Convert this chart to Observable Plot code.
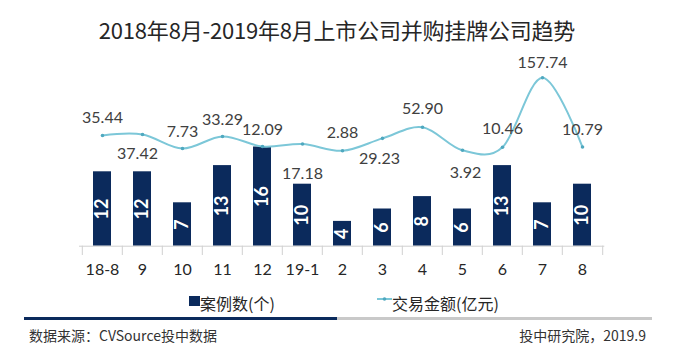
<!DOCTYPE html>
<html>
<head>
<meta charset="utf-8">
<script src="https://cdn.jsdelivr.net/npm/d3@7"></script>
<script src="https://cdn.jsdelivr.net/npm/@observablehq/plot@0.6"></script>
<style>
  html, body { margin: 0; padding: 0; background: #fff; }
  #wrap { position: relative; width: 674px; height: 354px; overflow: hidden; font-family: "Noto Sans CJK SC", Lato, sans-serif; }
  #title { position: absolute; left: 0; width: 674px; top: 14px; text-align: center; font-size: 22px; color: #262626; line-height: 30px; letter-spacing: -0.2px; }
  #chart { position: absolute; left: 0; top: 0; }
  .leg { position: absolute; font-size: 16px; color: #262626; line-height: 20px; }
  #sep1 { position: absolute; left: 24px; width: 313px; top: 317px; height: 3px; background: #0b2a5c; }
  #sep2 { position: absolute; left: 337px; width: 315px; top: 317px; height: 3px; background: #c9c9c9; }
  .foot { position: absolute; font-size: 14px; color: #333; line-height: 18px; top: 326px; }
</style>
</head>
<body>
<div id="wrap">
  <div id="chart"></div>
  <div id="title">2018年8月-2019年8月上市公司并购挂牌公司趋势</div>
  <div class="leg" style="left:189px; top:293px;"><span style="display:inline-block;width:11px;height:10px;background:#0b2a5c;vertical-align:top;margin-top:3px;"></span>案例数(个)</div>
  <div class="leg" style="left:377px; top:293px;"><svg width="15" height="10" style="vertical-align:top;margin-top:1px;"><line x1="0" y1="5" x2="15" y2="5" stroke="#7cc7d8" stroke-width="2"/><circle cx="7.5" cy="5" r="1.8" fill="#4fa8bf"/></svg>交易金额(亿元)</div>
  <div id="sep1"></div><div id="sep2"></div>
  <div class="foot" style="left:29px;">数据来源：CVSource投中数据</div>
  <div class="foot" style="right:28px;">投中研究院，2019.9</div>
</div>
<script>
// ---- data ----
const months = ["18-8", "9", "10", "11", "12", "19-1", "2", "3", "4", "5", "6", "7", "8"];
const dealCounts = [12, 12, 7, 13, 16, 10, 4, 6, 8, 6, 13, 7, 10];
const dealAmounts = [35.44, 37.42, 7.73, 33.29, 12.09, 17.18, 2.88, 29.23, 52.90, 3.92, 10.46, 157.74, 10.79];
const amountLabels = ["35.44", "37.42", "7.73", "33.29", "12.09", "17.18", "2.88", "29.23", "52.90", "3.92", "10.46", "157.74", "10.79"];

// ---- layout (label placement around the line points) ----
const labelOffset = {
  "18-8": [0, -18], "9": [-5, 19], "10": [0, -17], "11": [0, -17], "12": [0, -17],
  "19-1": [0, 30], "2": [0, -17.5], "3": [-3, 21], "4": [0, -18], "5": [3, 23],
  "6": [0, -18.5], "7": [0, -15], "8": [0, -17.5]
};

const rows = months.map((m, i) => ({month: m, count: dealCounts[i], amount: dealAmounts[i], label: amountLabels[i]}));

// secondary axis: amount mapped onto the count axis
const amountToY = a => 15.17 + a * 0.0760;

const W = 674, H = 290;
const barColor = "#0b2a5c", lineColor = "#7cc7d8", dotColor = "#4fa8bf";

const chart = Plot.plot({
  width: W,
  height: H,
  marginLeft: 79,
  marginRight: W - 604.3,
  marginTop: 59.7,
  marginBottom: H - 245.7,
  style: {fontFamily: "Lato, 'Noto Sans CJK SC', sans-serif", background: "transparent"},
  x: {type: "band", domain: months, paddingInner: 0.555, paddingOuter: 0.2775, label: null},
  y: {domain: [0, 30], axis: null},
  marks: [
    Plot.barY(rows, {x: "month", y: "count", fill: barColor}),
    Plot.text(rows, {x: "month", y: d => d.count / 2, text: d => String(d.count), rotate: -90, fill: "white", fontSize: 18, fontWeight: "bold"}),
    Plot.ruleY([0], {stroke: "#d0d0d0", strokeWidth: 1}),
    Plot.ruleX(months, {x: d => d, dx: -20.2, y1: 0, y2: -1.5, stroke: "#d0d0d0"}),
    Plot.ruleX([months[months.length - 1]], {x: d => d, dx: 20.2, y1: 0, y2: -1.5, stroke: "#d0d0d0"}),
    Plot.line(rows, {x: "month", y: d => amountToY(d.amount), stroke: lineColor, strokeWidth: 2, curve: "cardinal", tension: 0}),
    Plot.dot(rows, {x: "month", y: d => amountToY(d.amount), r: 1.8, fill: dotColor}),
    ...rows.map(d => Plot.text([d], {x: "month", y: r => amountToY(r.amount), text: "label", dx: labelOffset[d.month][0], dy: labelOffset[d.month][1], fill: "#404040", fontSize: 16})),
    Plot.axisX({tickSize: 0, tickPadding: 17, fontSize: 16, fill: "#262626", label: null})
  ]
});
document.getElementById("chart").appendChild(chart);
</script>
</body>
</html>
